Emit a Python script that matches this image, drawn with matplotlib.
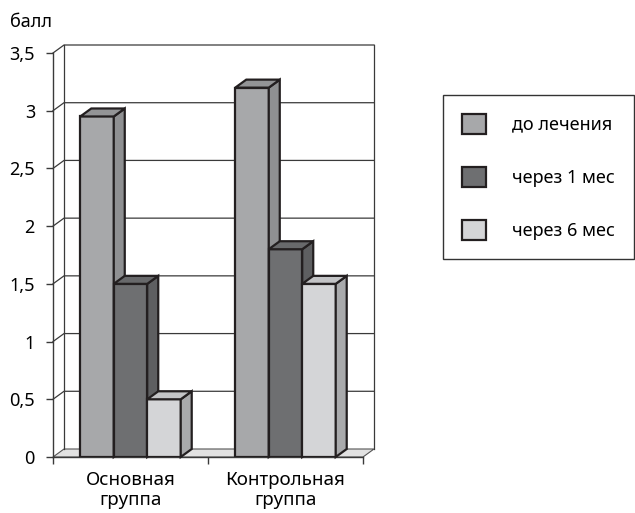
import numpy as np
import matplotlib
matplotlib.use("Agg")
from matplotlib import pyplot as plt
from matplotlib.patches import Polygon, Patch

plt.rcParams['font.family'] = ['Noto Sans', 'DejaVu Sans']

groups = ["Основная\nгруппа", "Контрольная\nгруппа"]
series = ["до лечения", "через 1 мес", "через 6 мес"]
before = [2.95, 3.2]
month1 = [1.5, 1.8]
month6 = [0.5, 1.5]
yticks = [0, 0.5, 1, 1.5, 2, 2.5, 3, 3.5]
ytick_labels = ["0", "0,5", "1", "1,5", "2", "2,5", "3", "3,5"]

front_cols = ["#a7a8aa", "#6e6f71", "#d4d5d7"]
side_cols = ["#8f9092", "#5e5f61", "#a9aaac"]
top_cols = ["#939496", "#68696b", "#c3c4c6"]
edge = "#231f20"

W, H = 635, 513
fig = plt.figure(figsize=(W / 100, H / 100), dpi=100)
ax = fig.add_axes([53 / W, 56 / H, 310 / W, 404 / H])
ax.set_xlim(0, 2)
ax.set_ylim(0, 3.5)

# depth of the 3d effect in data units
dx = 11 / 155
dy = 8 / (404 / 3.5)
grid_c = "#3a3a3a"

# floor
ax.add_patch(Polygon([(0, 0), (2, 0), (2 + dx, dy), (dx, dy)], closed=True,
                     facecolor="#e2e2e2", edgecolor="#555555", lw=0.8,
                     clip_on=False, zorder=1))
# back wall grid and edges
for y in yticks[1:]:
    ax.plot([0, dx, 2 + dx], [y, y + dy, y + dy], color=grid_c, lw=0.9,
            clip_on=False, zorder=1)
ax.plot([dx, dx], [dy, 3.5 + dy], color=grid_c, lw=0.9, clip_on=False, zorder=1)
ax.plot([2 + dx, 2 + dx], [dy, 3.5 + dy], color=grid_c, lw=0.9, clip_on=False, zorder=1)

# bars
values = np.array([before, month1, month6])
width = 0.216
offsets = [-width, 0, width]
z = 3
for g in range(len(groups)):
    for s in range(len(series)):
        h = values[s][g]
        xc = g + 0.5 + offsets[s]
        x0, x1 = xc - width / 2, xc + width / 2
        ax.bar(xc, h, width, color=front_cols[s], edgecolor=edge, lw=1.6, zorder=z)
        ax.add_patch(Polygon([(x1, 0), (x1, h), (x1 + dx, h + dy), (x1 + dx, dy)],
                             closed=True, facecolor=side_cols[s], edgecolor=edge,
                             lw=1.6, zorder=z, clip_on=False))
        ax.add_patch(Polygon([(x0, h), (x1, h), (x1 + dx, h + dy), (x0 + dx, h + dy)],
                             closed=True, facecolor=top_cols[s], edgecolor=edge,
                             lw=1.6, zorder=z, clip_on=False))
        z += 1

for sp in ["top", "right"]:
    ax.spines[sp].set_visible(False)
for sp in ["left", "bottom"]:
    ax.spines[sp].set_color(grid_c)
    ax.spines[sp].set_linewidth(1.0)
    ax.spines[sp].set_zorder(2)

ax.set_yticks(yticks)
ax.set_yticklabels(ytick_labels)
ax.tick_params(axis="y", direction="out", length=5, width=1.0, color=grid_c,
               pad=8, labelsize=13)
ax.set_xticks([0, 1, 2])
ax.set_xticklabels([])
ax.set_xticks([0.5, 1.5], minor=True)
ax.set_xticklabels(groups, minor=True, linespacing=1.12)
ax.tick_params(axis="x", which="major", direction="out", length=5, width=1.0,
               color=grid_c)
ax.tick_params(axis="x", which="minor", length=0, pad=10, labelsize=13.5)

fig.text(10 / W, 1 - 27 / H, "балл", fontsize=13, va="baseline", ha="left")

handles = [Patch(facecolor=front_cols[i], edgecolor=edge, lw=1.6) for i in range(3)]
fig.legend(handles, series, loc="upper left",
           bbox_to_anchor=(443 / W, 1 - 100 / H, 191 / W, 0.01), mode="expand",
           fontsize=13, frameon=True, fancybox=False, edgecolor="#333333",
           framealpha=1, borderpad=1.05, handlelength=1.35, handleheight=1.3,
           handletextpad=1.4, labelspacing=1.85, borderaxespad=0)
fig.legends[0].get_frame().set_linewidth(1.0)

fig.savefig("out.png", dpi=100)
